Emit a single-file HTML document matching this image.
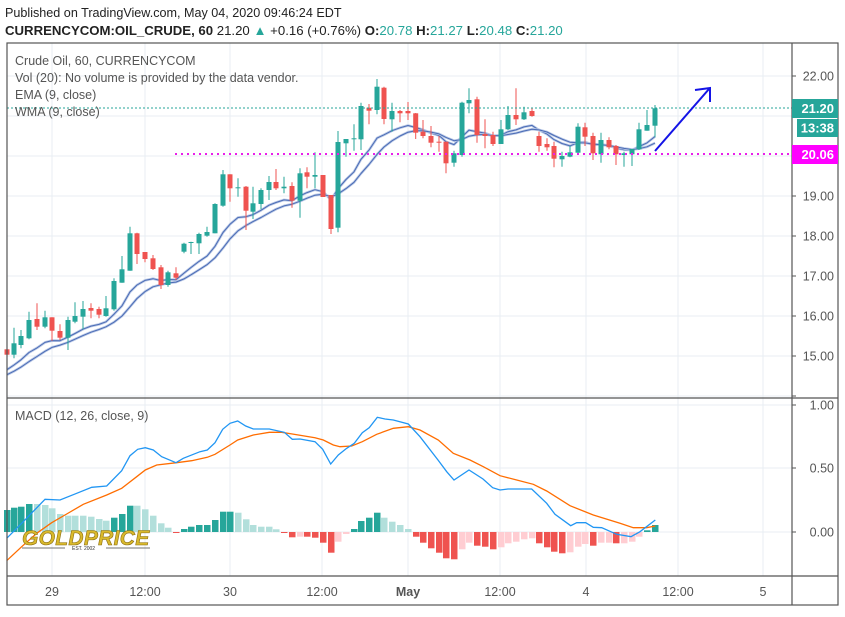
<!DOCTYPE html>
<html><head><meta charset="utf-8">
<style>
html,body{margin:0;padding:0;background:#fff;}
body{width:845px;height:612px;overflow:hidden;font-family:"Liberation Sans",Arial,sans-serif;}
svg text{font-family:"Liberation Sans",Arial,sans-serif;}
</style></head><body>
<svg id="c" width="845" height="612" xmlns="http://www.w3.org/2000/svg">
<rect width="845" height="612" fill="#fff"/>
<g id="grid" stroke="#e8eef3" stroke-width="1"></g>
<g id="pane"></g>
<text x="5" y="17" font-size="12.6" fill="#222">Published on TradingView.com, May 04, 2020 09:46:24 EDT</text>
<text x="5" y="35" font-size="13.2" fill="#222"><tspan font-weight="bold">CURRENCYCOM:OIL_CRUDE, 60</tspan> 21.20 <tspan fill="#26a69a">▲</tspan> +0.16 (+0.76%) <tspan font-weight="bold">O:</tspan><tspan fill="#26a69a">20.78</tspan> <tspan font-weight="bold">H:</tspan><tspan fill="#26a69a">21.27</tspan> <tspan font-weight="bold">L:</tspan><tspan fill="#26a69a">20.48</tspan> <tspan font-weight="bold">C:</tspan><tspan fill="#26a69a">21.20</tspan></text>
<g font-size="12.5" fill="#555">
<text x="15" y="65">Crude Oil, 60, CURRENCYCOM</text>
<text x="15" y="82">Vol (20): No volume is provided by the data vendor.</text>
<text x="15" y="99">EMA (9, close)</text>
<text x="15" y="116">WMA (9, close)</text>
<text x="15" y="420">MACD (12, 26, close, 9)</text>
</g>
</svg>
<script>
const S='http://www.w3.org/2000/svg';
const svg=document.getElementById('c');
const grid=document.getElementById('grid');
const pane=document.getElementById('pane');
function el(t,a,p){const e=document.createElementNS(S,t);for(const k in a)e.setAttribute(k,a[k]);(p||pane).appendChild(e);return e;}
[52,145,230,322,408,500,586,678,763].forEach(x=>{el('line',{x1:x,y1:43,x2:x,y2:576},grid);});
for(let y=76;y<=396;y+=40)el('line',{x1:7,y1:y,x2:792,y2:y},grid);
[405,468,532].forEach(y=>el('line',{x1:7,y1:y,x2:792,y2:y},grid));
const C=[[7,349.3,354.7,347,356],[14,354.7,343.3,327.7,358.3],[21,345,336,330,348.3],[29,338.3,320,311.7,339.3],[37,319,326.7,303.3,330],[45,326.7,317.3,310.7,328.3],[52,317.3,330.7,317.3,340.7],[60,331,337.7,324.3,340],[68,337.7,320,316.7,350],[75,321.7,316,302.3,323.3],[83,316.7,309,301,329.3],[91,308,310.7,303.3,318.3],[99,309,314.7,306.7,318.3],[106,316,308.3,296,316.7],[114,309.3,281,278.3,310.7],[122,282.7,269.3,256,282.7],[130,270.7,233.3,226.7,270.7],[137,233.3,254,232.7,264],[145,252,259,252,262.3],[153,258.3,269,255,270],[161,267.3,285,265,289],[168,285,272.3,270.7,286.7],[176,273.3,277.7,267.3,280],[184,251.7,243.7,242.7,253.3],[191,243,242,241.7,254],[199,243.3,234,232.7,254],[207,235.7,232,226.7,236.7],[215,233.3,204,203.3,233.3],[223,205.7,174.3,170,206.7],[230,174.3,188.3,174.3,201.7],[238,188.3,187.3,178.3,196.7],[246,186.7,210.7,186,230],[253,211.7,203.3,186.7,219],[261,204,190,188.3,209.3],[269,190,182,176,200],[276,182,188.3,169,190],[284,188.3,186.7,176.7,193.3],[292,186,200.7,182.3,207.7],[300,200.7,173.3,168.3,217.7],[307,172.3,176.7,167.3,188.3],[315,176.7,175,152.3,188.3],[323,175,197,175,197],[331,195,229,195,234],[338,227.7,142,131,232.3],[346,143.3,139,139,156.7],[354,139.3,138.3,124.3,150.7],[361,139.3,106,102.7,150],[369,107.7,110.7,104,124.3],[377,110,86.7,79,114.3],[384,87.7,119,86.7,124.3],[392,119.3,111,102.7,131.7],[400,111,113.3,110,122.3],[408,111,113.3,102,120],[415.7,113.3,132.7,113,139],[423,131.7,136,120,138.3],[431,136,142.7,126,147.3],[439,141.7,142.7,136,151.7],[446,141.7,163.3,141.7,173.3],[454,162.7,153.3,150.7,166.7],[462,155,102.7,101.7,156.7],[469,103.3,100,88.3,113.3],[477,99.3,135,96.7,142.7],[485,134,136,119.3,148.3],[493,135,144,131.7,146],[501,144,129.3,120,144],[508,129.3,115,106,130],[516,115,119.3,88.3,125],[524,119.3,112.3,106.7,120],[532,111,116,108.3,116.7],[539,136,146,131.7,151.7],[547,144,147.3,138.3,150.7],[554,146,158.7,141.7,167.3],[562,159.3,156,151.7,166.7],[570,156.7,152.3,146,157.3],[578,152.7,126.7,123.3,153.3],[585,127.3,136.7,122.7,146],[593,136,153.3,132.7,160],[601,154.3,140,132.7,162.7],[609,140,147.3,137.3,149.3],[616,146,154.3,145,165],[624,155,153.3,151.7,166.7],[632,154.3,149,150,166],[639,149.3,129.3,122.7,150],[647,130.7,125,110,130.7],[655,125.7,108.3,105,137.3]];
const cl=C.map(c=>c[2]);let ema=[],e=cl[0]+12;const k=2/10;
cl.forEach((v,i)=>{e=i?v*k+e*(1-k):e;ema.push(e);});
let ema2=[],e2=ema[0]+4;ema.forEach((v,i)=>{e2=i?v*0.4+e2*0.6:e2;ema2.push(e2);});
function pl(xs,ys,col,w){el('polyline',{points:xs.map((x,i)=>x+','+ys[i].toFixed(1)).join(' '),fill:'none',stroke:col,'stroke-width':w,'stroke-linejoin':'round'});}
const xs=C.map(c=>c[0]);
[ema.map(v=>v+3),ema2.map(v=>v+4)].forEach(ys=>{pl(xs,ys,'#b9c8e6',2.6);pl(xs,ys,'#4a6bb5',1);});
C.forEach(([x,o,c,h,l])=>{const col=c<=o?'#26a69a':'#ef5350';
el('line',{x1:x,y1:h,x2:x,y2:l,stroke:col,'stroke-width':1});
const t=Math.min(o,c),b=Math.max(o,c);el('rect',{x:x-2.5,y:t,width:5,height:Math.max(1,b-t),fill:col});});
el('line',{x1:7,y1:108,x2:792,y2:108,stroke:'#26a69a','stroke-width':1,'stroke-dasharray':'2,2'});
el('line',{x1:175,y1:154,x2:792,y2:154,stroke:'#e91ee9','stroke-width':2,'stroke-dasharray':'2,4'});
el('path',{d:'M655,151 L709,89 M695,90 L710,88 L710,102',stroke:'#1414e6','stroke-width':2,fill:'none'});
const H=[[7,510,1],[14,507.7,1],[21,506.7,1],[29,504,1],[37,504,2],[45,505,2],[52,508.3,2],[60,514,2],[68,515.7,2],[75,515.7,2],[83,515.7,2],[91,516.7,2],[99,519,2],[106,520.7,2],[114,517.7,1],[122,514,1],[130,505.7,1],[137,505.7,2],[145,509.3,2],[153,515.7,2],[161,523.3,2],[168,527.7,2],[176,533,3],[184,529,1],[191,526.7,1],[199,525,1],[207,525,1],[215,520,1],[223,511.7,1],[230,511.7,1],[238,512.7,2],[246,519.3,2],[253,525,2],[261,526.7,2],[269,526.7,2],[276,529.3,2],[284,533,3],[292,537.3,3],[300,536.7,4],[307,536.7,3],[315,537.7,3],[323,542.7,3],[331,552.7,3],[338,541.7,4],[346,534,4],[354,529,1],[361,521,1],[369,517.7,1],[377,512.7,1],[384,517.7,2],[392,521.7,2],[400,525,2],[408,529,2],[416,536.7,3],[423,542.7,3],[431,548.3,3],[439,552.7,3],[446,558.3,3],[454,559.3,3],[462,549.3,4],[469,542.7,4],[477,545.7,3],[485,546.7,3],[493,549.3,3],[501,547.3,4],[508,543.3,4],[516,541.7,4],[524,539.3,4],[532,538.3,4],[539,543.3,3],[547,547.3,3],[554,551.7,3],[562,553.3,3],[570,552.3,4],[578,546.7,4],[585,544,4],[593,545.7,3],[601,542.7,4],[609,542.7,4],[616,543.3,3],[624,543.3,4],[632,541.7,4],[639,536.7,4],[647,530.3,1],[655,525,1]];
const HC={1:'#26a69a',2:'#b2dfdb',3:'#ef5350',4:'#ffcdd2'};
H.forEach(([x,y,t])=>{const z=532;el('rect',{x:x-3,y:Math.min(y,z),width:6.5,height:Math.max(1,Math.abs(y-z)),fill:HC[t]});});
const B=[[6.7,538.3],[21.7,523.3],[45,499.3],[60,500],[76.7,493.3],[91.7,487.3],[106.7,486],[121.7,470.7],[130,455.7],[137.7,449.3],[145.3,447.7],[153.3,450],[161.7,456.7],[176,462.7],[183.3,458.3],[200,451.7],[207.3,450],[215,442.7],[222.7,429.3],[230,423.3],[237.7,421],[245.7,426],[253.3,429],[269.3,429],[284.3,432.3],[292.3,439.3],[300,439],[315,441.7],[322.7,449.3],[330.7,464],[338.3,455],[346.7,448.3],[354.3,443.3],[362.3,432.7],[369.3,427.7],[377.3,417.3],[385,419],[393.3,420],[408.3,424],[420,436.7],[438,460],[446.7,471.7],[454,480],[469,470],[483,479],[492.7,487.7],[500,490],[508,489],[531.7,489],[546.7,503.3],[555,514.3],[570.7,525.7],[576.7,522.7],[585.7,522.7],[593.3,527.3],[601.7,527.7],[616.7,534.3],[631,536.7],[640,531.7],[655.3,520]];
const O=[[6.7,560.7],[21.7,546.7],[36.7,533.3],[51.7,522.7],[66.7,514],[83.3,504.3],[106.7,495],[121.7,488.3],[136.7,476.7],[145.3,470],[156.7,465],[176.7,462.7],[191.7,460.7],[207.3,457.3],[215,454.3],[230,445],[237.7,440],[253.3,435],[269.3,432.3],[281.7,432.3],[292.3,434],[315,437.7],[323.3,440],[333.3,445],[340,446.7],[351.7,446],[362.3,441.7],[376.7,434.3],[393.3,428.3],[408.3,426.7],[420,430],[438.3,440],[453.3,453.3],[470,460],[483.3,466.7],[500,475.7],[516.7,480],[533.3,484.3],[546.7,491],[570,505.7],[593.3,515],[620,523.3],[633.3,527.7],[646.7,527.7],[655.3,526]];
el('polyline',{points:O.map(p=>p.join(',')).join(' '),fill:'none',stroke:'#ff6d00','stroke-width':1.3});
el('polyline',{points:B.map(p=>p.join(',')).join(' '),fill:'none',stroke:'#2196f3','stroke-width':1.3});
const g=el('g',{});
el('text',{x:22,y:545,'font-size':21,'font-weight':'bold','font-style':'italic',fill:'#d9b92c',stroke:'#8a6d10','stroke-width':0.6,'letter-spacing':'0.3'},g).textContent='GOLDPRICE';
el('line',{x1:22,y1:548,x2:65,y2:548,stroke:'#444','stroke-width':0.8},g);
el('line',{x1:106,y1:548,x2:150,y2:548,stroke:'#444','stroke-width':0.8},g);
el('text',{x:72,y:550,'font-size':5,fill:'#333'},g).textContent='EST. 2002';
el('rect',{x:7,y:43,width:831,height:562,fill:'none',stroke:'#555','stroke-width':1.2});
el('line',{x1:792,y1:43,x2:792,y2:605,stroke:'#555','stroke-width':1.2});
el('line',{x1:7,y1:398,x2:838,y2:398,stroke:'#555','stroke-width':1.2});
el('line',{x1:7,y1:576,x2:838,y2:576,stroke:'#555','stroke-width':1.2});
[[76,'22.00'],[196,'19.00'],[236,'18.00'],[276,'17.00'],[316,'16.00'],[356,'15.00'],[405,'1.00'],[468,'0.50'],[532,'0.00']].forEach(([y,t])=>{
el('line',{x1:792,y1:y,x2:796,y2:y,stroke:'#555'});
el('text',{x:834,y:y+4.5,'font-size':12.5,fill:'#555','text-anchor':'end'}).textContent=t;});
el('line',{x1:792,y1:396,x2:796,y2:396,stroke:'#555'});
el('rect',{x:792,y:99,width:46,height:19,fill:'#26a69a'});
el('text',{x:834,y:113,'font-size':13,'font-weight':'bold',fill:'#fff','text-anchor':'end'}).textContent='21.20';
el('rect',{x:797,y:119,width:41,height:18,fill:'#26a69a'});
el('text',{x:834,y:132.5,'font-size':13,'font-weight':'bold',fill:'#fff','text-anchor':'end'}).textContent='13:38';
el('rect',{x:792,y:145,width:46,height:19,fill:'#ff00ff'});
el('text',{x:834,y:159,'font-size':13,'font-weight':'bold',fill:'#fff','text-anchor':'end'}).textContent='20.06';
[[52,'29'],[145,'12:00'],[230,'30'],[322,'12:00'],[408,'May'],[500,'12:00'],[586,'4'],[678,'12:00'],[763,'5']].forEach(([x,t])=>{
const a={x:x,y:596,'font-size':12.5,fill:'#555','text-anchor':'middle'};if(t==='May')a['font-weight']='bold';
el('text',a).textContent=t;});
</script>
</body></html>
